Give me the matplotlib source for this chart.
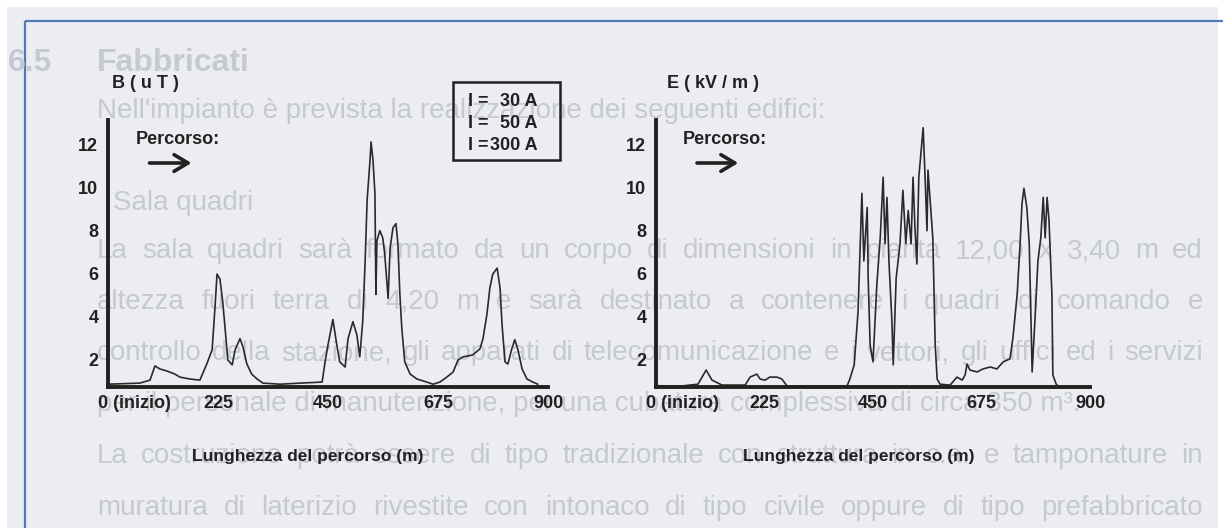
"""
Magnetic and electric field profiles along the route (scanned figure)
"""
import matplotlib
matplotlib.use('Agg')
from matplotlib import pyplot as plt
from matplotlib import font_manager
from matplotlib.patches import Rectangle
from matplotlib.transforms import ScaledTranslation


# distance along the route (m) and field values
B_DIST = [0, 65, 86, 96, 106, 121, 137, 147, 168, 188,
          202, 213, 219, 223, 229, 235, 241, 245, 254, 260,
          270, 276, 284, 294, 305, 317, 352, 393, 438, 444,
          450, 460, 468, 474, 485, 491, 501, 509, 515, 521,
          526, 530, 536, 538, 542, 546, 548, 550, 556, 562,
          566, 573, 577, 583, 589, 593, 597, 601, 607, 618,
          632, 652, 665, 679, 693, 706, 716, 726, 746, 761,
          767, 775, 781, 787, 796, 802, 806, 812, 818, 826,
          832, 838, 847, 857, 869, 879]
B_VALUES = [0.87, 0.92, 1.06, 1.72, 1.58, 1.48, 1.34, 1.20, 1.11, 1.06,
            1.81, 2.47, 4.49, 5.99, 5.76, 4.63, 3.08, 2.00, 1.77, 2.47,
            2.99, 2.61, 1.81, 1.34, 1.11, 0.92, 0.87, 0.92, 0.97, 1.91,
            2.70, 3.88, 2.70, 1.91, 1.67, 2.99, 3.78, 3.17, 2.14, 3.78,
            6.60, 9.42, 11.30, 12.14, 11.30, 9.75, 5.05, 7.54, 8.01, 7.68,
            6.93, 4.86, 7.21, 8.15, 8.34, 7.40, 5.05, 3.46, 1.91, 1.34,
            1.11, 0.97, 0.87, 0.97, 1.20, 1.44, 2.00, 2.14, 2.23, 2.52,
            2.99, 4.11, 5.33, 5.99, 6.27, 5.33, 3.64, 1.91, 1.81, 2.52,
            2.94, 2.52, 1.58, 1.11, 0.97, 0.87]

E_DIST = [0, 50, 87, 104, 116, 137, 185, 195, 209, 216,
          226, 236, 251, 261, 272, 396, 402, 411, 419, 427,
          431, 438, 440, 444, 450, 458, 465, 471, 475, 479,
          483, 489, 492, 498, 506, 512, 518, 523, 529, 533,
          537, 541, 545, 550, 554, 558, 562, 564, 570, 574,
          579, 583, 589, 610, 624, 635, 641, 645, 651, 666,
          678, 693, 707, 720, 734, 740, 749, 755, 759, 763,
          769, 774, 778, 780, 786, 792, 798, 803, 807, 811,
          815, 821, 823, 830, 834]
E_VALUES = [0.80, 0.78, 0.87, 1.53, 1.06, 0.83, 0.83, 1.20, 1.34, 1.11,
            1.06, 1.20, 1.20, 1.11, 0.78, 0.78, 1.11, 1.77, 4.25, 9.75,
            6.60, 9.09, 5.80, 2.70, 1.91, 5.52, 7.68, 10.50, 7.40, 9.56,
            6.60, 3.92, 1.77, 5.80, 7.40, 9.89, 7.40, 8.95, 7.40, 10.50,
            8.15, 6.46, 10.50, 11.77, 12.80, 10.50, 8.01, 10.83, 8.95, 7.68,
            2.70, 1.11, 0.87, 0.83, 1.20, 1.06, 1.30, 1.81, 1.53, 1.44,
            1.58, 1.67, 1.58, 1.91, 2.05, 2.99, 5.05, 7.40, 9.28, 9.98,
            9.09, 7.40, 3.46, 1.44, 3.92, 6.60, 7.68, 9.56, 7.68, 9.56,
            8.48, 5.05, 1.30, 0.87, 0.78]

X_TICKS = [0, 225, 450, 675, 900]
X_TICK_LABELS = ['0 (inizio)', '225', '450', '675', '900']
Y_TICKS = [2, 4, 6, 8, 10, 12]
CURRENTS = [30, 50, 300]

# faded page text showing through the scan: (text, x, y, size, bold, justified)
PAGE_LINES = [
    ('6.5', 8, 63, 23, True, False),
    ('Fabbricati', 97, 63, 23, True, False),
    ("Nell'impianto è prevista la realizzazione dei seguenti edifici:", 97, 111, 20, False, False),
    ('Sala quadri', 113, 203, 20, False, False),
    ('La sala quadri sarà formato da un corpo di dimensioni in pianta 12,00 x 3,40 m ed',
     97, 251, 20, False, True),
    ('altezza fuori terra di 4,20 m e sarà destinato a contenere i quadri di comando e',
     97, 302, 20, False, True),
    ('controllo della stazione, gli apparati di telecomunicazione e i vettori, gli uffici ed i servizi',
     97, 353, 20, False, True),
    ('per il personale di manutenzione, per una cubatura complessiva di circa 350 m³.',
     97, 404, 20, False, False),
    ('La costruzione potrà essere di tipo tradizionale con struttura in c.a. e tamponature in',
     97, 456, 20, False, True),
    ('muratura di laterizio rivestite con intonaco di tipo civile oppure di tipo prefabbricato',
     97, 508, 20, False, True),
]

W, H = 1223, 528
AX_BOTTOM, AX_TOP = 387, 120
PAGE_BG = '#ebedf2'
GHOST = '#c6c9d0'
FRAME = '#4f7db3'
INK = '#222120'

names = {f.name for f in font_manager.fontManager.ttflist}
NARROW = 'Liberation Sans Narrow' if 'Liberation Sans Narrow' in names else 'Liberation Sans'
WIDE = 'Liberation Sans'

fig = plt.figure(figsize=(W / 100, H / 100), dpi=100)
fig.patch.set_facecolor('white')

# page underneath, in pixel coordinates
page = fig.add_axes([0, 0, 1, 1], zorder=0)
page.set_xlim(0, W)
page.set_ylim(H, 0)
page.axis('off')
page.add_patch(Rectangle((7, 7), 1211, H - 7, facecolor=PAGE_BG, edgecolor='none'))
page.plot([25, W], [21, 21], color=FRAME, lw=1.6, solid_capstyle='butt')
page.plot([25, 25], [21, H], color=FRAME, lw=1.6, solid_capstyle='butt')

renderer = fig.canvas.get_renderer()
for text, x, y, size, bold, justified in PAGE_LINES:
    style = dict(fontsize=size, color=GHOST, va='center', ha='left', family=WIDE,
                 fontweight='bold' if bold else 'normal')
    if not justified:
        page.text(x, y, text, **style)
        continue
    words = [page.text(0, y, w, **style) for w in text.split()]
    widths = [t.get_window_extent(renderer).width for t in words]
    gap = max((1203 - x - sum(widths)) / (len(words) - 1), 4)
    pos = x
    for t, wd in zip(words, widths):
        t.set_x(pos)
        pos += wd + gap


def frac(py):
    """pixel row of the scan -> axes fraction"""
    return (AX_BOTTOM - py) / (AX_BOTTOM - AX_TOP)


def draw_panel(left, width, dist, values, ylabel, ylabel_x, xlabel_x):
    """one field profile with its hand-drawn looking axes"""
    ax = fig.add_axes([left / W, 1 - AX_BOTTOM / H, width / W, (AX_BOTTOM - AX_TOP) / H],
                      zorder=2)
    ax.patch.set_alpha(0)
    ax.plot(dist, values, color='#2a2a2a', lw=1.2)
    ax.set_xlim(0, 900)
    ax.set_ylim(0.74, 13.16)
    for side in ['top', 'right']:
        ax.spines[side].set_visible(False)
    for side in ['left', 'bottom']:
        ax.spines[side].set_linewidth(2.8)
        ax.spines[side].set_color(INK)
    ax.set_xticks(X_TICKS, X_TICK_LABELS)
    ax.set_yticks(Y_TICKS)
    ax.tick_params(length=0, labelsize=13, labelcolor=INK)
    ax.tick_params(axis='x', pad=6)
    ax.tick_params(axis='y', pad=7)
    for lab in ax.get_xticklabels() + ax.get_yticklabels():
        lab.set_fontfamily(NARROW)
        lab.set_fontweight('bold')
    first = ax.get_xticklabels()[0]
    first.set_transform(first.get_transform() + ScaledTranslation(0.26, 0, fig.dpi_scale_trans))

    ax.text(ylabel_x, frac(83), ylabel, transform=ax.transAxes, ha='center', va='center',
            fontsize=13, fontweight='bold', family=WIDE, color=INK)
    ax.text(0.062, frac(140), 'Percorso:', transform=ax.transAxes, ha='left', va='center',
            fontsize=13, fontweight='bold', family=NARROW, color=INK)
    ax.annotate('', xy=(0.196, frac(163)), xytext=(0.088, frac(163)), xycoords='axes fraction',
                arrowprops=dict(arrowstyle='->, head_length=0.5, head_width=0.3',
                                lw=2.6, color=INK, mutation_scale=20))
    ax.text(xlabel_x, frac(456), 'Lunghezza del percorso (m)', transform=ax.transAxes,
            ha='center', va='center', fontsize=12.5, fontweight='bold', family=WIDE, color=INK)
    return ax


ax_b = draw_panel(108, 440, B_DIST, B_VALUES, 'B ( u T )', 0.086, 0.455)
ax_e = draw_panel(656, 434, E_DIST, E_VALUES, 'E ( kV / m )', 0.131, 0.468)

# current box on the B panel
ax_b.add_patch(Rectangle((0.784, frac(160)), 0.243, frac(82) - frac(160),
                         transform=ax_b.transAxes, fill=False, edgecolor=INK, lw=1.8,
                         clip_on=False))
for row, current in enumerate(CURRENTS):
    y = frac([102, 123, 146][row])
    ax_b.text(0.818, y, 'I =', transform=ax_b.transAxes, ha='left', va='center',
              fontsize=13, fontweight='bold', family=NARROW, color=INK)
    ax_b.text(0.977, y, f'{current} A', transform=ax_b.transAxes, ha='right', va='center',
              fontsize=13, fontweight='bold', family=NARROW, color=INK)

fig.savefig('out.png', dpi=100, facecolor=fig.get_facecolor())
